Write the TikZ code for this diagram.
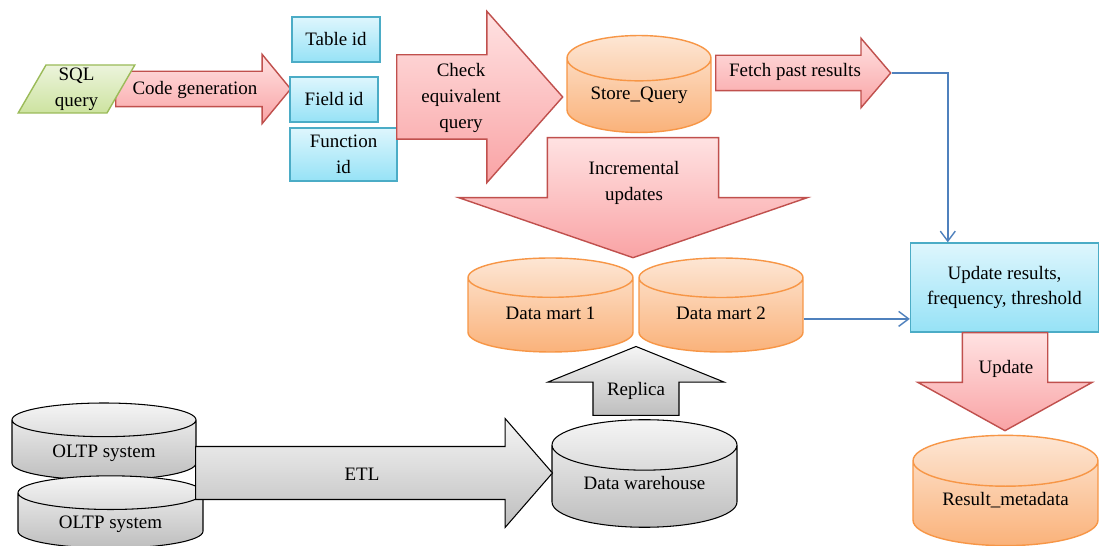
\documentclass[tikz,border=0pt]{standalone}
\usepackage{fontspec}
\setmainfont{Liberation Serif}
\usetikzlibrary{shapes.geometric,shapes.arrows,arrows.meta}

\definecolor{pinkline}{RGB}{192,80,77}
\definecolor{pinktop}{RGB}{255,226,226}
\definecolor{pinkbot}{RGB}{249,163,165}
\definecolor{cyanline}{RGB}{75,172,198}
\definecolor{cyantop}{RGB}{222,246,253}
\definecolor{cyanbot}{RGB}{150,226,246}
\definecolor{orgline}{RGB}{247,150,70}
\definecolor{orgtop}{RGB}{253,230,212}
\definecolor{orgbot}{RGB}{250,178,122}
\definecolor{grytop}{RGB}{245,245,245}
\definecolor{grybot}{RGB}{190,190,190}
\definecolor{grnline}{RGB}{155,187,89}
\definecolor{grntop}{RGB}{236,244,220}
\definecolor{grnbot}{RGB}{205,227,160}
\definecolor{flowblue}{RGB}{79,129,189}

\begin{document}
\begin{tikzpicture}[
  x=0.02cm, y=-0.02cm,
  every node/.style={font=\fontsize{10.8}{14.6}\selectfont},
  lbl/.style={align=center, inner sep=0pt},
  % boxes and the query parallelogram
  idbox/.style={rectangle, draw=cyanline, line width=0.8pt,
    top color=cyantop, bottom color=cyanbot, align=center},
  sqlbox/.style={trapezium, trapezium left angle=65, trapezium right angle=115,
    trapezium stretches=true, draw=grnline, line width=0.8pt,
    top color=grntop, bottom color=grnbot, align=center, inner sep=0pt},
  % databases
  db/.style={cylinder, shape border rotate=90, draw=orgline, line width=0.8pt,
    top color=orgtop, bottom color=orgbot, anchor=shape center, text height=0.25cm},
  greydb/.style={cylinder, shape border rotate=90, draw=black, line width=0.6pt,
    top color=grytop, bottom color=grybot, anchor=shape center, text height=0.25cm},
  % block arrows, text is put on them separately
  blk/.style={single arrow, inner xsep=0pt, anchor=tail},
  pinkarrow/.style={blk, draw=pinkline, line width=0.8pt, top color=pinktop, bottom color=pinkbot},
  pinkdown/.style={pinkarrow, rotate=-90},
  greyarrow/.style={blk, draw=black, line width=0.6pt, top color=grytop, bottom color=grybot},
  greyup/.style={greyarrow, rotate=90},
  flow/.style={draw=flowblue, line width=0.8pt, -{Straight Barb[length=2mm,width=3mm]}}]

  \useasboundingbox[fill=white] (0,0) rectangle (1099,546);

  % query side
  \node[pinkarrow, minimum height=3.5cm, inner ysep=0.34cm, single arrow head extend=0.34cm,
    single arrow tip angle=101] (codegen) at (115,89) {};
  \node[sqlbox, minimum width=2.34cm, minimum height=0.96cm] (sql) at (76.5,89) {SQL\\query};
  \node[idbox, minimum width=1.76cm, minimum height=0.9cm] (tableid) at (336,39.5) {Table id};
  \node[idbox, minimum width=1.76cm, minimum height=0.9cm] (fieldid) at (334,99.5) {Field id};
  \node[idbox, minimum width=2.14cm, minimum height=1.06cm] (funcid) at (343.5,154.5) {Function\\id};
  \node[pinkarrow, minimum height=3.32cm, inner ysep=0.83cm, single arrow head extend=0.87cm,
    single arrow tip angle=97] (check) at (396,97) {};
  \node[db, minimum width=2.88cm, minimum height=1.76cm, aspect=0.417, text depth=0.26cm] (store) at (639,84) {Store\_Query};
  \node[pinkarrow, minimum height=3.5cm, inner ysep=0.34cm, single arrow head extend=0.34cm,
    single arrow tip angle=99] (fetch) at (715,73) {};

  % data marts
  \node[pinkdown, minimum height=2.4cm, inner ysep=1.7cm, single arrow head extend=1.77cm,
    single arrow tip angle=142] (incr) at (633,137) {};
  \node[db, minimum width=3.30cm, minimum height=1.88cm, aspect=0.388, text depth=0.24cm] (mart1) at (550.5,305) {Data mart 1};
  \node[db, minimum width=3.28cm, minimum height=1.88cm, aspect=0.39, text depth=0.24cm] (mart2) at (721,305) {Data mart 2};

  % results
  \node[idbox, minimum width=3.76cm, minimum height=1.78cm] (update) at (1004.5,287.5) {Update results,\\frequency, threshold};
  \node[pinkdown, minimum height=1.96cm, inner ysep=0.84cm, single arrow head extend=0.89cm,
    single arrow tip angle=122] (upd) at (1005,332) {};
  \node[db, minimum width=3.70cm, minimum height=2.10cm, aspect=0.368, text depth=0.36cm] (result) at (1005.5,490.5) {Result\_metadata};

  % warehouse side
  \node[greyup, minimum height=1.38cm, inner ysep=0.85cm, single arrow head extend=0.9cm,
    single arrow tip angle=136] (replica) at (636,416) {};
  \node[greydb, minimum width=3.70cm, minimum height=2.06cm, aspect=0.378, text depth=0.32cm] (dwh) at (644.5,473.5) {Data warehouse};
  \node[greydb, minimum width=3.68cm, minimum height=1.54cm, aspect=0.293, text depth=0.06cm] (oltp1) at (104,441.5) {OLTP system};
  \node[greydb, minimum width=3.70cm, minimum height=1.44cm, aspect=0.293, text depth=0.06cm] (oltp2) at (110.5,512) {OLTP system};
  \node[greyarrow, minimum height=7.14cm, inner ysep=0.52cm, single arrow head extend=0.56cm,
    single arrow tip angle=98] (etl) at (195,473) {};

  % texts on the block arrows
  \node[lbl] (codegen-t) at (195,90) {Code generation};
  \node[lbl] (check-t) at (461,98) {Check\\equivalent\\query};
  \node[lbl] (fetch-t) at (795,72) {Fetch past results};
  \node[lbl] (incr-t) at (634,183) {Incremental\\updates};
  \node[lbl] (upd-t) at (1006,369) {Update};
  \node[lbl] (replica-t) at (636,391) {Replica};
  \node[lbl] (etl-t) at (362,474) {ETL};

  % connectors
  \draw[flow] (fetch.tip) -| ([xshift=0.76cm]update.north west);
  \draw[flow] (mart2.east) -- (mart2.east -| update.west);
\end{tikzpicture}
\end{document}
